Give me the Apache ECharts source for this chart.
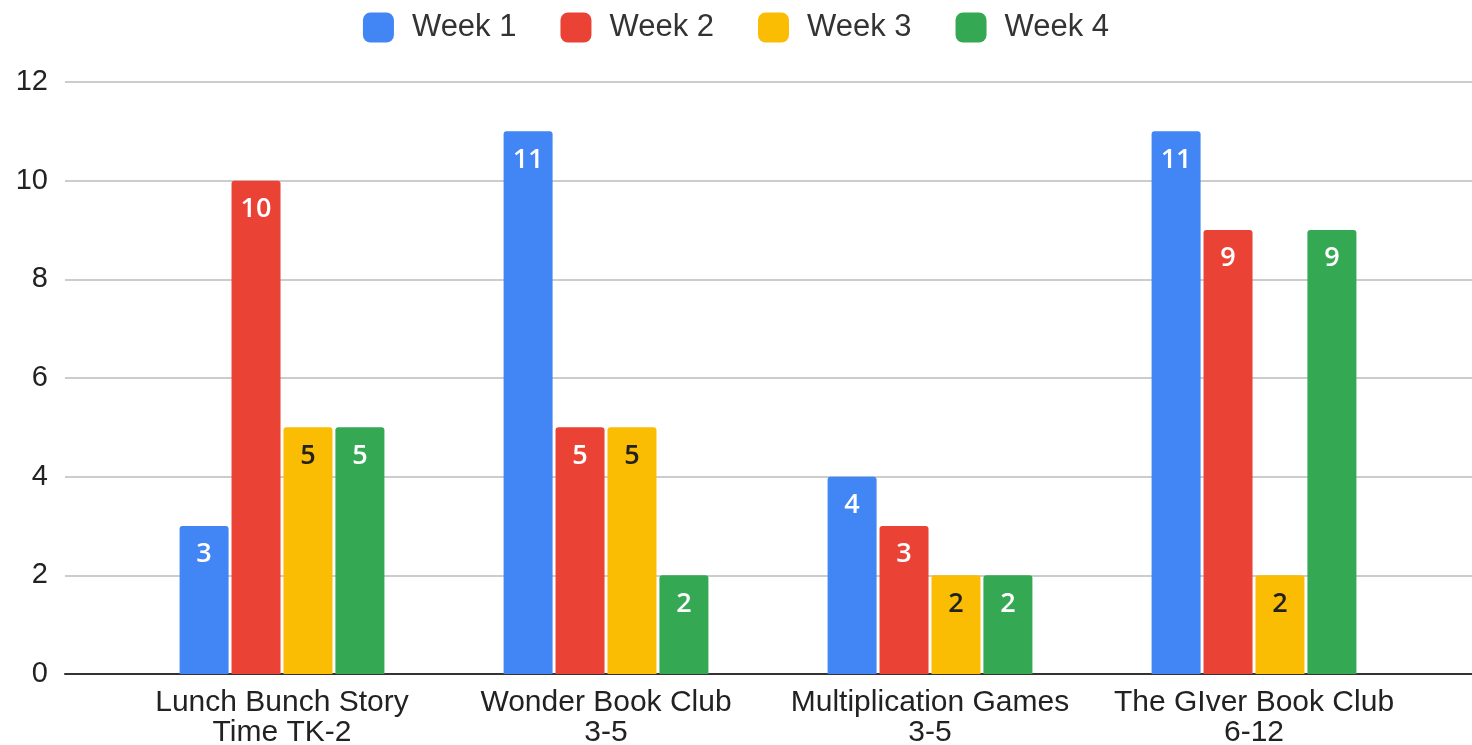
<!DOCTYPE html>
<html>
<head>
<meta charset="utf-8">
<script src="https://cdn.jsdelivr.net/npm/echarts@6/dist/echarts.min.js"></script>
<style>
  html, body { margin: 0; padding: 0; background: #fff; }
  #chart { width: 1472px; height: 745px; }
</style>
</head>
<body>
<div id="chart"></div>
<script>
const categories = ['Lunch Bunch Story\nTime TK-2', 'Wonder Book Club\n3-5', 'Multiplication Games\n3-5', 'The GIver Book Club\n6-12']
const seriesNames = ['Week 1', 'Week 2', 'Week 3', 'Week 4']
const week1 = [3, 11, 4, 11]
const week2 = [10, 5, 3, 9]
const week3 = [5, 5, 2, 2]
const week4 = [5, 2, 2, 9]
const yTicks = [0, 2, 4, 6, 8, 10, 12]

const colors = ['#4285F4', '#EA4335', '#FBBC04', '#34A853']
const labelColors = ['#fff', '#fff', '#222', '#fff']
const values = [week1, week2, week3, week4]
const font = 'Liberation Sans'

const chart = echarts.init(document.getElementById('chart'))

const bars = seriesNames.map((name, i) => ({
  name: name,
  type: 'bar',
  xAxisIndex: 1,
  yAxisIndex: 1,
  data: values[i],
  barWidth: 49,
  barGap: '6%',
  itemStyle: { color: colors[i], borderRadius: [3, 3, 0, 0] },
  label: {
    show: true,
    position: 'insideTop',
    distance: 15,
    color: labelColors[i],
    fontSize: 27,
    fontWeight: 600,
    fontFamily: 'Open Sans'
  }
}))

chart.setOption({
  animation: false,
  color: colors,
  textStyle: { fontFamily: font },
  legend: {
    data: seriesNames,
    top: 7,
    left: 'center',
    itemWidth: 31,
    itemHeight: 30,
    itemGap: 44,
    icon: 'roundRect',
    textStyle: { fontSize: 31, color: '#333', fontFamily: font, padding: [0, 0, 0, 13] }
  },
  grid: [
    // background grid: gridlines + baseline across the full width
    { left: 65, right: 0, top: 82, bottom: 71, outerBoundsMode: 'none' },
    // bars
    { left: 120, right: 56, top: 82, bottom: 71, outerBoundsMode: 'none' }
  ],
  xAxis: [
    {
      gridIndex: 0,
      type: 'category',
      data: [''],
      axisLine: { show: true, lineStyle: { color: '#333', width: 2 } },
      axisTick: { show: false },
      axisLabel: { show: false }
    },
    {
      gridIndex: 1,
      type: 'category',
      data: categories,
      axisLine: { show: false },
      axisTick: { show: false },
      axisLabel: {
        fontSize: 30,
        fontFamily: font,
        color: '#222',
        lineHeight: 30,
        margin: 14,
        interval: 0
      }
    }
  ],
  yAxis: [
    {
      gridIndex: 0,
      type: 'value',
      min: yTicks[0],
      max: yTicks[yTicks.length - 1],
      interval: 2,
      axisLine: { show: false },
      axisTick: { show: false },
      axisLabel: { fontSize: 29, fontFamily: font, color: '#222', margin: 17 },
      splitLine: { lineStyle: { color: '#ccc', width: 2 } }
    },
    {
      gridIndex: 1,
      type: 'value',
      min: yTicks[0],
      max: yTicks[yTicks.length - 1],
      interval: 2,
      show: false,
      splitLine: { show: false }
    }
  ],
  series: [
    { type: 'scatter', xAxisIndex: 0, yAxisIndex: 0, data: [], silent: true }
  ].concat(bars)
})
</script>
</body>
</html>
